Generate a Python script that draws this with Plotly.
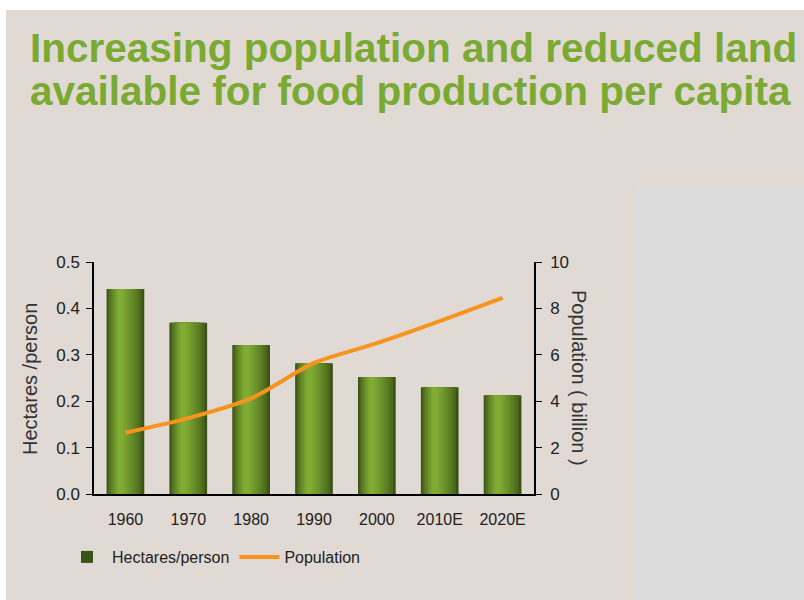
import plotly.graph_objects as go

# ---- data ----
years = ["1960", "1970", "1980", "1990", "2000", "2010E", "2020E"]
hectares_per_person = [0.442, 0.369, 0.321, 0.282, 0.252, 0.230, 0.213]
population_billion = [2.64, 3.27, 4.12, 5.65, 6.50, 7.45, 8.45]

title_lines = ["Increasing population and reduced land",
               "available for food production per capita"]

# ---- layout geometry (pixels) ----
W, H = 804, 600
PL, PR, PT, PB = 94, 534, 262, 494   # plot area edges


def px_x(x):
    return (x - PL) / (PR - PL)


def px_y(y):
    return (PB - y) / (PB - PT)


fig = go.Figure()

# bars drawn as overlaid layers to mimic the cylindrical gradient
n_layers = 9
dark = (58, 83, 22)
light = (128, 172, 52)
full_w = 0.6
for i in range(n_layers):
    t = i / (n_layers - 1)
    w = full_w * (1 - 0.85 * t)
    centre = -0.075 * t
    c = tuple(int(dark[k] + (light[k] - dark[k]) * (t ** 0.7)) for k in range(3))
    fig.add_trace(go.Bar(
        x=years, y=hectares_per_person,
        width=w, offset=centre - w / 2,
        marker=dict(color="rgb(%d,%d,%d)" % c, line=dict(width=0)),
        name="Hectares/person",
        showlegend=(i == 0),
        legendgroup="h",
        hoverinfo="skip" if i else None,
        yaxis="y",
    ))

fig.add_trace(go.Scatter(
    x=years, y=population_billion,
    mode="lines",
    line=dict(color="#F7941D", width=4, shape="spline", smoothing=0.7),
    name="Population",
    yaxis="y2",
))

FONT = "Liberation Sans, Arial, sans-serif"
axis_font = dict(family=FONT, size=16, color="#222222")

fig.update_layout(
    width=W, height=H,
    margin=dict(l=PL, r=W - PR, t=PT, b=H - PB, pad=0),
    paper_bgcolor="white",
    plot_bgcolor="rgba(0,0,0,0)",
    barmode="overlay",
    font=axis_font,
    showlegend=True,
    legend=dict(
        orientation="h",
        x=px_x(62), y=px_y(540), xanchor="left", yanchor="top",
        bgcolor="rgba(0,0,0,0)",
        font=dict(family=FONT, size=16, color="#222222"),
        itemwidth=40,
        tracegroupgap=0,
    ),
    xaxis=dict(
        type="category",
        showline=True, linecolor="black", linewidth=1.5,
        ticks="", showgrid=False, zeroline=False,
        tickfont=axis_font,
        ticklabelstandoff=10,
        range=[-0.5, 6.5],
    ),
    yaxis=dict(
        range=[0, 0.5], dtick=0.1, tickformat=".1f",
        showline=True, linecolor="black", linewidth=1.5,
        ticks="outside", ticklen=6, tickcolor="black",
        showgrid=False, zeroline=False,
        ticklabelstandoff=3,
        tickfont=dict(family=FONT, size=17, color="#222222"),
    ),
    yaxis2=dict(
        range=[0, 10], dtick=2,
        overlaying="y", side="right",
        showline=True, linecolor="black", linewidth=1.5,
        ticks="outside", ticklen=6, tickcolor="black",
        showgrid=False, zeroline=False,
        ticklabelstandoff=5,
        tickfont=dict(family=FONT, size=17, color="#222222"),
    ),
)

# background panels
fig.add_shape(type="rect", xref="paper", yref="paper", layer="below",
              x0=px_x(6), x1=px_x(W), y0=px_y(H), y1=px_y(10),
              fillcolor="#E0D9D4", line=dict(width=0))
fig.add_shape(type="rect", xref="paper", yref="paper", layer="below",
              x0=px_x(635), x1=px_x(W), y0=px_y(H), y1=px_y(187),
              fillcolor="#DCDCDC", line=dict(width=0))

# title lines
title_font = dict(family=FONT, size=40.5, color="#7BAA33")
for line, base in zip(title_lines, [64, 107]):
    fig.add_annotation(text="<b>%s</b>" % line, xref="paper", yref="paper",
                       x=px_x(28), y=px_y(base + 9), xanchor="left", yanchor="bottom",
                       showarrow=False, font=title_font)

# axis titles
fig.add_annotation(text="Hectares /person", xref="paper", yref="paper",
                   x=px_x(30), y=px_y(379), textangle=-90,
                   xanchor="center", yanchor="middle",
                   showarrow=False, font=dict(family=FONT, size=20, color="#333333"))
fig.add_annotation(text="Population ( billion )", xref="paper", yref="paper",
                   x=px_x(579), y=px_y(378), textangle=90,
                   xanchor="center", yanchor="middle",
                   showarrow=False, font=dict(family=FONT, size=20, color="#333333"))

fig.write_html("out.html")
